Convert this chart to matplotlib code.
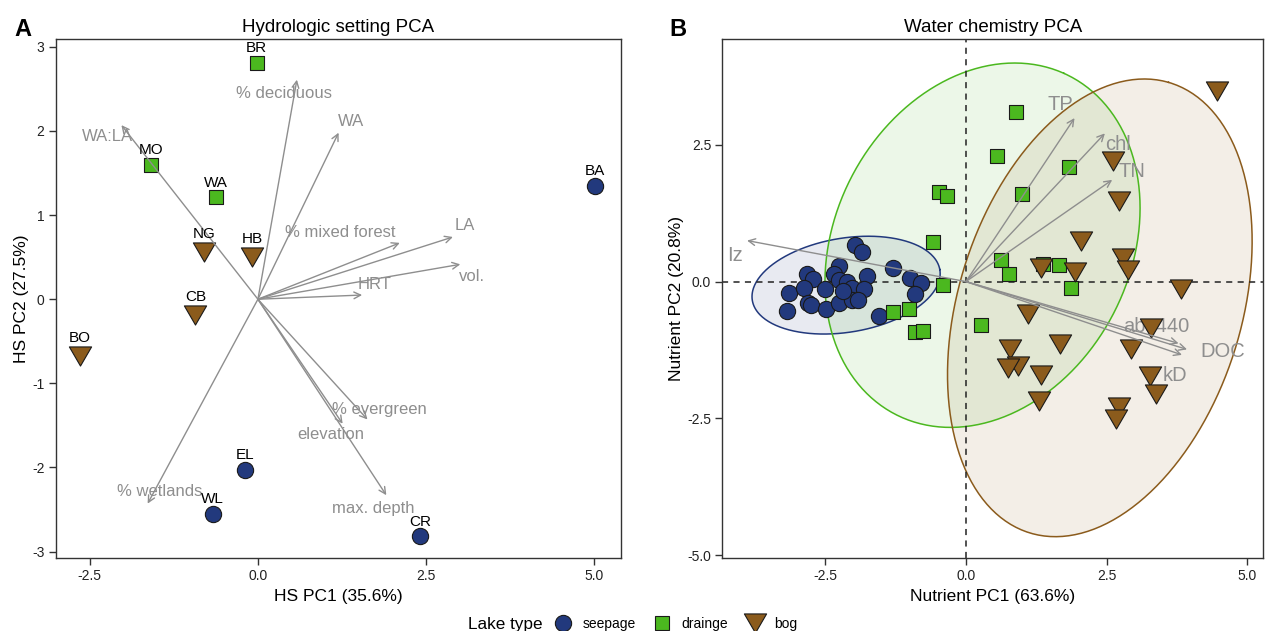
import numpy as np
import matplotlib
matplotlib.use('Agg')
import matplotlib.pyplot as plt
from matplotlib.lines import Line2D
from matplotlib.path import Path

plt.rcParams['font.family'] = ['Liberation Sans', 'DejaVu Sans']
plt.rcParams['axes.unicode_minus'] = False

# ---------------- data ----------------
lake_types = ['seepage', 'drainge', 'bog']

# Panel A: hydrologic setting PCA (lake scores)
hs_lakes = ['BR', 'MO', 'WA', 'NG', 'HB', 'CB', 'BO', 'BA', 'EL', 'WL', 'CR']
hs_type = ['drainge', 'drainge', 'drainge', 'bog', 'bog', 'bog', 'bog',
           'seepage', 'seepage', 'seepage', 'seepage']
hs_pc1 = [-0.02, -1.59, -0.62, -0.80, -0.09, -0.93, -2.65, 5.01, -0.19, -0.67, 2.41]
hs_pc2 = [2.81, 1.60, 1.21, 0.56, 0.50, -0.19, -0.67, 1.35, -2.03, -2.55, -2.82]

# Panel A loadings (arrow tips) and label positions
hs_vars = ['% deciduous', 'WA', 'WA:LA', '% mixed forest', 'LA', 'vol.', 'HRT',
           '% evergreen', 'elevation', 'max. depth', '% wetlands']
hs_load1 = [0.58, 1.20, -2.03, 2.11, 2.90, 3.01, 1.55, 1.63, 1.26, 1.91, -1.64]
hs_load2 = [2.61, 1.98, 2.07, 0.67, 0.74, 0.415, 0.05, -1.43, -1.48, -2.33, -2.43]
hs_lab1 = [0.39, 1.38, -2.23, 1.22, 3.08, 3.19, 1.73, 1.80, 1.08, 1.72, -1.46]
hs_lab2 = [2.45, 2.11, 1.93, 0.79, 0.88, 0.27, 0.18, -1.31, -1.61, -2.49, -2.29]

# Panel B: water chemistry PCA scores
wc_seep_pc1 = [-1.97, -1.85, -2.25, -2.83, -2.71, -2.35, -2.25, -2.12, -1.76, -1.29,
               -1.00, -0.79, -0.90, -3.15, -2.88, -2.50, -2.03, -1.81, -2.80, -2.75,
               -3.18, -2.48, -2.26, -2.03, -1.91, -1.55, -2.18]
wc_seep_pc2 = [0.66, 0.55, 0.28, 0.13, 0.05, 0.13, 0.02, -0.01, 0.11, 0.25,
               0.07, -0.02, -0.22, -0.21, -0.12, -0.13, -0.12, -0.13, -0.40, -0.42,
               -0.54, -0.51, -0.39, -0.33, -0.33, -0.63, -0.18]
wc_drain_pc1 = [-0.59, -0.40, -1.29, -1.02, -0.90, -0.77, -0.47, -0.33, 0.89, 0.56,
                1.84, 0.99, 0.63, 0.77, 1.37, 1.65, 1.87, 0.26]
wc_drain_pc2 = [0.73, -0.07, -0.56, -0.50, -0.93, -0.91, 1.63, 1.57, 3.10, 2.29,
                2.10, 1.61, 0.39, 0.13, 0.33, 0.31, -0.11, -0.80]
wc_bog_pc1 = [4.47, 2.61, 2.72, 2.05, 2.80, 2.88, 1.34, 1.93, 3.82, 1.10, 1.67,
              0.78, 0.93, 0.75, 1.34, 1.30, 3.29, 2.94, 3.28, 3.38, 2.72, 2.66]
wc_bog_pc2 = [3.48, 2.20, 1.47, 0.74, 0.43, 0.22, 0.25, 0.17, -0.13, -0.60, -1.15,
              -1.24, -1.55, -1.58, -1.70, -2.18, -0.85, -1.24, -1.73, -2.05, -2.29, -2.52]

# Panel B loadings and label positions
wc_vars = ['Iz', 'TP', 'chl', 'TN', 'abs440', 'DOC', 'kD']
wc_load1 = [-3.89, 1.93, 2.47, 2.60, 3.78, 3.93, 3.84]
wc_load2 = [0.75, 2.99, 2.71, 1.86, -1.13, -1.24, -1.34]
wc_lab1 = [-4.10, 1.67, 2.71, 2.95, 3.39, 4.56, 3.72]
wc_lab2 = [0.47, 3.23, 2.50, 2.01, -0.82, -1.28, -1.71]

# Panel B ellipses per lake type: centre x, centre y, semi-major, semi-minor, angle (deg)
ell_cx = [-2.13, 0.295, 2.38]
ell_cy = [-0.065, 0.665, -0.48]
ell_a = [1.69, 3.46, 4.30]
ell_b = [0.86, 2.64, 2.52]
ell_ang = [9.7, 65.3, 73.5]

# ---------------- styles ----------------
col = {'seepage': '#22397d', 'drainge': '#4bb81f', 'bog': '#8b5b1c'}
tri = Path([(-1, 0.86), (1, 0.86), (0, -0.86), (-1, 0.86)],
           [Path.MOVETO, Path.LINETO, Path.LINETO, Path.CLOSEPOLY])
mk = {'seepage': 'o', 'drainge': 's', 'bog': tri}
msz = {'seepage': 11.7, 'drainge': 10.6, 'bog': 16.0}
arrow_col = '#8e8e8e'
frame_col = '#333333'

fig = plt.figure(figsize=(12.65, 6.31), dpi=100)
axA = fig.add_axes([0.0439, 0.1152, 0.447, 0.8225])
axB = fig.add_axes([0.571, 0.1152, 0.4274, 0.8225])

for ax in (axA, axB):
    for s in ax.spines.values():
        s.set_color(frame_col)
        s.set_linewidth(1.0)
    ax.tick_params(direction='out', length=5, width=1, color=frame_col,
                   labelsize=10, labelcolor='#222222', pad=3)

# ---------------- Panel A ----------------
for v, lx, ly in zip(hs_vars, hs_lab1, hs_lab2):
    axA.text(lx, ly, v, color=arrow_col, fontsize=12, ha='center', va='center', zorder=2)
for t in lake_types:
    xs = [x for x, tt in zip(hs_pc1, hs_type) if tt == t]
    ys = [y for y, tt in zip(hs_pc2, hs_type) if tt == t]
    axA.scatter(xs, ys, s=msz[t] ** 2, marker=mk[t], c=col[t], edgecolors='#1a1a1a',
                linewidths=0.8, zorder=4)
for x1, y1 in zip(hs_load1, hs_load2):
    axA.annotate('', xy=(x1, y1), xytext=(0, 0),
                 arrowprops=dict(arrowstyle='->', color=arrow_col, lw=1.0,
                                 shrinkA=0, shrinkB=0, mutation_scale=12), zorder=5)
for name, x, y, t in zip(hs_lakes, hs_pc1, hs_pc2, hs_type):
    off = 13 if t == 'bog' else 10.6
    axA.annotate(name, (x, y), xytext=(0, off), textcoords='offset points',
                 ha='center', va='center', fontsize=11, color='black', zorder=6)

axA.set_xlim(-3.01, 5.40)
axA.set_ylim(-3.08, 3.09)
axA.set_xticks([-2.5, 0.0, 2.5, 5.0])
axA.set_xticklabels(['-2.5', '0.0', '2.5', '5.0'])
axA.set_yticks([-3, -2, -1, 0, 1, 2, 3])
axA.set_yticklabels(['-3', '-2', '-1', '0', '1', '2', '3'])
axA.set_xlabel('HS PC1 (35.6%)', fontsize=12.5, labelpad=4)
axA.set_ylabel('HS PC2 (27.5%)', fontsize=12.5, labelpad=2)
axA.set_title('Hydrologic setting PCA', fontsize=13.5, pad=5)

# ---------------- Panel B ----------------
tt = np.linspace(0, 2 * np.pi, 300)
for t, cx, cy, a, b, ang in zip(lake_types, ell_cx, ell_cy, ell_a, ell_b, ell_ang):
    th = np.deg2rad(ang)
    ex = cx + a * np.cos(th) * np.cos(tt) - b * np.sin(th) * np.sin(tt)
    ey = cy + a * np.sin(th) * np.cos(tt) + b * np.cos(th) * np.sin(tt)
    axB.fill(ex, ey, color=col[t], alpha=0.1, lw=0, zorder=1)
    axB.plot(ex, ey, color=col[t], lw=1.1, zorder=1.5)

axB.axhline(0, color='#222222', ls=(0, (4, 3.5)), lw=1.1, zorder=2)
axB.axvline(0, color='#222222', ls=(0, (4, 3.5)), lw=1.1, zorder=2)

for v, lx, ly in zip(wc_vars, wc_lab1, wc_lab2):
    axB.text(lx, ly, v, color=arrow_col, fontsize=14.5, ha='center', va='center', zorder=2.5)

for t, xs, ys in zip(lake_types, [wc_seep_pc1, wc_drain_pc1, wc_bog_pc1],
                     [wc_seep_pc2, wc_drain_pc2, wc_bog_pc2]):
    axB.scatter(xs, ys, s=msz[t] ** 2, marker=mk[t], c=col[t], edgecolors='#1a1a1a',
                linewidths=0.8, zorder=4)

for x1, y1 in zip(wc_load1, wc_load2):
    axB.annotate('', xy=(x1, y1), xytext=(0, 0),
                 arrowprops=dict(arrowstyle='->', color=arrow_col, lw=1.0,
                                 shrinkA=0, shrinkB=0, mutation_scale=12), zorder=5)

axB.set_xlim(-4.33, 5.28)
axB.set_ylim(-5.06, 4.43)
axB.set_xticks([-2.5, 0.0, 2.5, 5.0])
axB.set_xticklabels(['-2.5', '0.0', '2.5', '5.0'])
axB.set_yticks([-5.0, -2.5, 0.0, 2.5])
axB.set_yticklabels(['-5.0', '-2.5', '0.0', '2.5'])
axB.set_xlabel('Nutrient PC1 (63.6%)', fontsize=12.5, labelpad=4)
axB.set_ylabel('Nutrient PC2 (20.8%)', fontsize=12.5, labelpad=2)
axB.set_title('Water chemistry PCA', fontsize=13.5, pad=5)

# panel letters
fig.text(23 / 1265, 1 - 29 / 631, 'A', fontsize=17, fontweight='bold', ha='center', va='center')
fig.text(678 / 1265, 1 - 29 / 631, 'B', fontsize=17, fontweight='bold', ha='center', va='center')

# legend
fig.text(468 / 1265, 1 - 624 / 631, 'Lake type', fontsize=12.3, ha='left', va='center')
handles = [Line2D([], [], ls='none', marker=mk[t], markersize=msz[t],
                  markerfacecolor=col[t], markeredgecolor='#1a1a1a', markeredgewidth=0.8)
           for t in lake_types]
fig.legend(handles, lake_types, ncol=3, loc='center left',
           bbox_to_anchor=(552 / 1265, 1 - 624 / 631), frameon=False,
           fontsize=10, handletextpad=0.6, columnspacing=1.1, borderpad=0,
           handlelength=1.6, borderaxespad=0)

fig.savefig('out.png', dpi=100)
